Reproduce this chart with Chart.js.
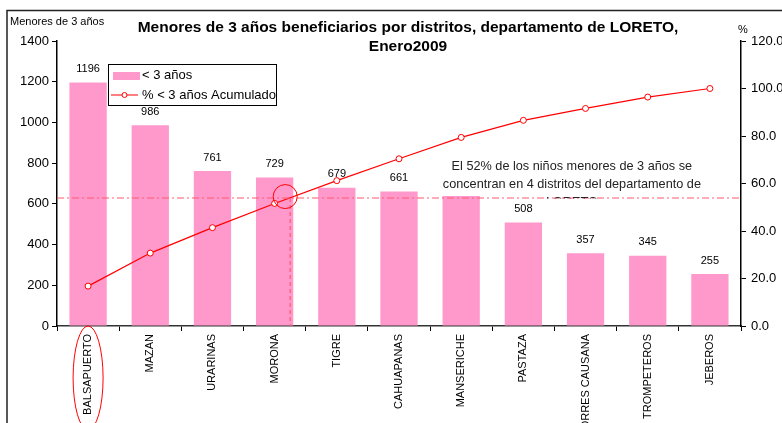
<!DOCTYPE html>
<html><head><meta charset="utf-8">
<script src="https://cdn.jsdelivr.net/npm/chart.js@4/dist/chart.umd.min.js"></script>
<style>html,body{margin:0;padding:0;background:#fff;overflow:hidden}#wrap{width:782px;height:423px;position:relative}</style>
</head><body><div id="wrap"><canvas id="c" width="782" height="423"></canvas></div>
<script>
const categories = ["BALSAPUERTO","MAZAN","URARINAS","MORONA","TIGRE","CAHUAPANAS","MANSERICHE","PASTAZA","TORRES CAUSANA","TROMPETEROS","JEBEROS"];
const menores = [1196, 986, 761, 729, 679, 661, 638, 508, 357, 345, 255];
const acumulado = [16.8, 30.7, 41.4, 51.6, 61.2, 70.4, 79.4, 86.6, 91.6, 96.4, 100.0];
const shownLabels = [true, true, true, true, true, true, false, true, true, true, true];
const leftTicks = [0, 200, 400, 600, 800, 1000, 1200, 1400];
const rightTicks = [0, 20, 40, 60, 80, 100, 120];
const refPct = 53.9;
const titleLines = ["Menores de 3 años beneficiarios por distritos, departamento de LORETO,", "Enero2009"];
const noteLines = ["El 52% de los niños menores de 3 años se", "concentran en 4 distritos del departamento de", "LORETO"];
const FONT = "'Liberation Sans', Arial, sans-serif";

const deco = {
  id: 'deco',
  afterDatasetsDraw(chart) {
    const ctx = chart.ctx, x = chart.scales.x, y = chart.scales.y, y1 = chart.scales.y1;
    ctx.save();
    // value labels
    ctx.font = "11px " + FONT; ctx.fillStyle = "#000"; ctx.textAlign = "center"; ctx.textBaseline = "bottom";
    menores.forEach((v, i) => { if (shownLabels[i]) ctx.fillText(String(v), x.getPixelForValue(i), y.getPixelForValue(v) - 8); });
    // reference lines
    const ry = y1.getPixelForValue(refPct);
    ctx.strokeStyle = "#FF5A6E"; ctx.lineWidth = 1.2;
    ctx.setLineDash([7, 3, 2, 3]);
    ctx.beginPath(); ctx.moveTo(chart.chartArea.left, ry); ctx.lineTo(chart.chartArea.right, ry); ctx.stroke();
    const vx = x.getPixelForValue(3.25);
    ctx.setLineDash([4, 3]);
    ctx.beginPath(); ctx.moveTo(vx, ry); ctx.lineTo(vx, chart.chartArea.bottom); ctx.stroke();
    ctx.setLineDash([]);
    // circle
    ctx.strokeStyle = "#FF0000"; ctx.lineWidth = 1;
    ctx.beginPath(); ctx.arc(x.getPixelForValue(3.17), y1.getPixelForValue(54.5), 12, 0, Math.PI * 2); ctx.stroke();
    // ellipse around first label
    ctx.beginPath(); ctx.ellipse(x.getPixelForValue(0), chart.chartArea.bottom + 52, 15, 52, 0, 0, Math.PI * 2); ctx.stroke();
    // note text
    ctx.fillStyle = "#222"; ctx.font = "12.7px " + FONT; ctx.textAlign = "center"; ctx.textBaseline = "middle";
    const nx = x.getPixelForValue(7.78);
    ctx.fillText(noteLines[0], nx, 166);
    ctx.fillText(noteLines[1], nx, 184);
    ctx.save(); ctx.beginPath(); ctx.rect(nx - 60, 190, 120, 8.5); ctx.clip();
    ctx.fillText(noteLines[2], nx, 202); ctx.restore();
    // title
    ctx.fillStyle = "#000"; ctx.font = "bold 15.5px " + FONT;
    ctx.fillText(titleLines[0], 408, 28); ctx.fillText(titleLines[1], 408, 47);
    // axis titles
    ctx.font = "11px " + FONT; ctx.textAlign = "left";
    ctx.fillText("Menores de 3 años", 10, 22);
    ctx.fillText("%", 738, 30);
    // legend
    ctx.strokeStyle = "#000"; ctx.lineWidth = 1;
    ctx.strokeRect(108.5, 64.5, 168, 41);
    ctx.fillStyle = "#FF99CC"; ctx.fillRect(113, 72, 27, 8);
    ctx.strokeStyle = "#FF0000"; ctx.beginPath(); ctx.moveTo(111, 95); ctx.lineTo(138, 95); ctx.stroke();
    ctx.fillStyle = "#fff"; ctx.beginPath(); ctx.arc(124.5, 95, 2.5, 0, Math.PI * 2); ctx.fill(); ctx.stroke();
    ctx.fillStyle = "#000"; ctx.font = "13px " + FONT; ctx.textBaseline = "middle";
    ctx.fillText("< 3 años", 142, 75);
    ctx.fillText("% < 3 años Acumulado", 142, 95);
    // outer border
    ctx.strokeStyle = "#222"; ctx.lineWidth = 1.5;
    ctx.beginPath(); ctx.moveTo(7, 440); ctx.lineTo(7, 10.5); ctx.lineTo(800, 10.5); ctx.stroke();
    ctx.restore();
  }
};

new Chart(document.getElementById('c'), {
  data: {
    labels: categories,
    datasets: [
      { type: 'line', label: '% < 3 años Acumulado', data: acumulado, yAxisID: 'y1', borderColor: '#FF0000', borderWidth: 1.2,
        pointRadius: 3, pointBackgroundColor: '#fff', pointBorderColor: '#FF0000', pointBorderWidth: 1, tension: 0, order: 0 },
      { type: 'bar', label: '< 3 años', data: menores, yAxisID: 'y', backgroundColor: '#FF99CC', barPercentage: 0.6, categoryPercentage: 1, order: 1 }
    ]
  },
  options: {
    responsive: false, animation: false, devicePixelRatio: 1,
    layout: { padding: { top: 41, left: 0, right: 0, bottom: 0 } },
    plugins: { legend: { display: false }, tooltip: { enabled: false } },
    scales: {
      x: {
        offset: true,
        grid: { offset: true, drawOnChartArea: false, tickLength: 5, color: '#000', tickColor: '#000' },
        border: { color: '#333', width: 1.5 },
        ticks: { maxRotation: 90, minRotation: 90, autoSkip: false, color: '#000', font: { size: 11, family: FONT }, padding: 3 },
        afterFit(s) { s.height = 97; }
      },
      y: {
        position: 'left', min: 0, max: 1400,
        afterBuildTicks(s) { s.ticks = leftTicks.map(v => ({ value: v })); },
        grid: { drawOnChartArea: false, tickLength: 5, color: '#000' },
        border: { color: '#000', width: 1.5 },
        ticks: { color: '#000', font: { size: 13, family: FONT }, padding: 3, callback: v => String(v) },
        afterFit(s) { s.width = 57; }
      },
      y1: {
        position: 'right', min: 0, max: 120,
        afterBuildTicks(s) { s.ticks = rightTicks.map(v => ({ value: v })); },
        grid: { drawOnChartArea: false, tickLength: 5, color: '#000' },
        border: { color: '#000', width: 1.5 },
        ticks: { color: '#000', font: { size: 13, family: FONT }, padding: 5, callback: v => Number(v).toFixed(1) },
        afterFit(s) { s.width = 41; }
      }
    }
  },
  plugins: [deco]
});
</script></body></html>
